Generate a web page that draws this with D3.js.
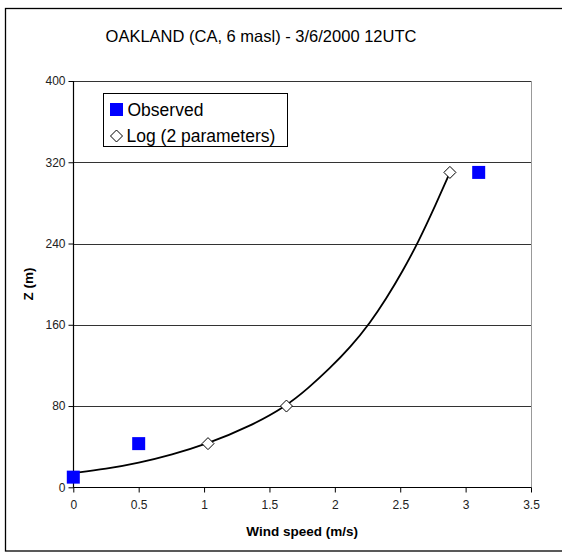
<!DOCTYPE html>
<html>
<head>
<meta charset="utf-8">
<script src="https://cdn.jsdelivr.net/npm/d3@7"></script>
<style>
  html, body { margin: 0; padding: 0; background: #fff; }
  svg { display: block; font-family: "Liberation Sans", Arial, sans-serif; }
</style>
</head>
<body>
<div id="chart"></div>
<script>
(function () {
  'use strict';

  // observed wind profile
  const obsSpeed = [0, 0.5, 3.1];
  const obsHeight = [10, 43, 310];

  // log fit (2 parameters), markers
  const fitSpeed = [1.03, 1.63, 2.88];
  const fitHeight = [43, 80, 310];

  // log fit curve
  const curveSpeed = [0, 0.25, 0.5, 0.75, 1.03, 1.35, 1.63, 1.80, 1.96, 2.12, 2.27, 2.39, 2.52, 2.64, 2.76, 2.88];
  const curveHeight = [14, 18, 24, 32, 43, 60, 80, 98, 117, 138, 162, 185, 213, 242, 275, 310];

  const xTicks = [0, 0.5, 1, 1.5, 2, 2.5, 3, 3.5];
  const yTicks = [0, 80, 160, 240, 320, 400];

  const W = 562, H = 552;
  const left = 73.3, right = 531, top = 81, bottom = 487.3;

  const svg = d3.select('#chart').append('svg')
    .attr('width', W).attr('height', H);

  // outer frame (right/bottom run off the picture)
  svg.append('rect')
    .attr('x', 5.5).attr('y', 8.5)
    .attr('width', 600).attr('height', 542.5)
    .attr('fill', '#fff').attr('stroke', '#000').attr('stroke-width', 1.3);

  const x = d3.scaleLinear().domain([0, 3.5]).range([left, right]);
  const y = d3.scaleLinear().domain([0, 400]).range([bottom, top]);

  // gridlines
  svg.append('g')
    .selectAll('line')
    .data(yTicks.filter(d => d > 0))
    .join('line')
    .attr('x1', left).attr('x2', right)
    .attr('y1', d => Math.round(y(d)) + 0.5).attr('y2', d => Math.round(y(d)) + 0.5)
    .attr('stroke', '#333').attr('stroke-width', 1);

  // right plot-area border
  svg.append('line')
    .attr('x1', Math.round(right) + 0.5).attr('x2', Math.round(right) + 0.5)
    .attr('y1', top).attr('y2', bottom)
    .attr('stroke', '#999').attr('stroke-width', 1);

  const yAxis = svg.append('g')
    .attr('transform', `translate(${Math.round(left) + 0.5},0)`)
    .call(d3.axisLeft(y).tickValues(yTicks).tickSize(5).tickPadding(3).tickFormat(d3.format('d')));

  const xAxis = svg.append('g')
    .attr('transform', `translate(0,${Math.round(bottom) + 0.5})`)
    .call(d3.axisBottom(x).tickValues(xTicks).tickSize(5).tickPadding(8).tickFormat(d => String(d)));

  [yAxis, xAxis].forEach(g => {
    g.select('.domain').attr('stroke', '#000').attr('stroke-width', 1.2);
    g.selectAll('.tick line').attr('stroke', '#000');
    g.selectAll('.tick text')
      .attr('font-family', '"Liberation Sans", Arial, sans-serif')
      .attr('font-size', 12).attr('fill', '#222');
  });
  yAxis.select('.domain').attr('d', `M0,${top}V${Math.round(bottom) + 0.5}`);
  xAxis.select('.domain').attr('d', `M${left},0H${Math.round(right) + 0.5}`);

  // fitted curve
  const line = d3.line()
    .x(d => x(d[0])).y(d => y(d[1]))
    .curve(d3.curveBasis);

  svg.append('path')
    .datum(d3.zip(curveSpeed, curveHeight))
    .attr('d', line)
    .attr('fill', 'none').attr('stroke', '#000').attr('stroke-width', 1.8);

  const diamond = (cx, cy, r) => `M${cx},${cy - r}L${cx + r},${cy}L${cx},${cy + r}L${cx - r},${cy}Z`;

  svg.append('g')
    .selectAll('path')
    .data(d3.zip(fitSpeed, fitHeight))
    .join('path')
    .attr('d', d => diamond(x(d[0]), y(d[1]), 6))
    .attr('fill', '#fff').attr('stroke', '#000').attr('stroke-width', 1);

  const sq = 13;
  svg.append('g')
    .selectAll('rect')
    .data(d3.zip(obsSpeed, obsHeight))
    .join('rect')
    .attr('x', d => x(d[0]) - sq / 2).attr('y', d => y(d[1]) - sq / 2)
    .attr('width', sq).attr('height', sq)
    .attr('fill', '#0000ff');

  // title and axis titles
  svg.append('text')
    .attr('x', 261).attr('y', 42)
    .attr('text-anchor', 'middle')
    .attr('font-size', 16.5).attr('fill', '#000')
    .text('OAKLAND (CA, 6 masl) - 3/6/2000 12UTC');

  svg.append('text')
    .attr('x', (left + right) / 2).attr('y', 536)
    .attr('text-anchor', 'middle')
    .attr('font-size', 13.5).attr('font-weight', 'bold').attr('fill', '#000')
    .text('Wind speed (m/s)');

  svg.append('text')
    .attr('transform', 'translate(33,284) rotate(-90)')
    .attr('text-anchor', 'middle')
    .attr('font-size', 13.5).attr('font-weight', 'bold').attr('fill', '#000')
    .text('Z (m)');

  // legend
  const legend = svg.append('g');
  legend.append('rect')
    .attr('x', 103.5).attr('y', 93.5).attr('width', 184).attr('height', 53)
    .attr('fill', '#fff').attr('stroke', '#000').attr('stroke-width', 1);
  legend.append('rect')
    .attr('x', 110).attr('y', 103).attr('width', 13).attr('height', 13)
    .attr('fill', '#0000ff');
  legend.append('text')
    .attr('x', 127.5).attr('y', 115.5)
    .attr('font-size', 17.5).attr('fill', '#000')
    .text('Observed');
  legend.append('path')
    .attr('d', diamond(116.5, 136, 6))
    .attr('fill', '#fff').attr('stroke', '#000').attr('stroke-width', 1);
  legend.append('text')
    .attr('x', 126.5).attr('y', 141.5)
    .attr('font-size', 17.5).attr('fill', '#000')
    .text('Log (2 parameters)');
})();
</script>
</body>
</html>
